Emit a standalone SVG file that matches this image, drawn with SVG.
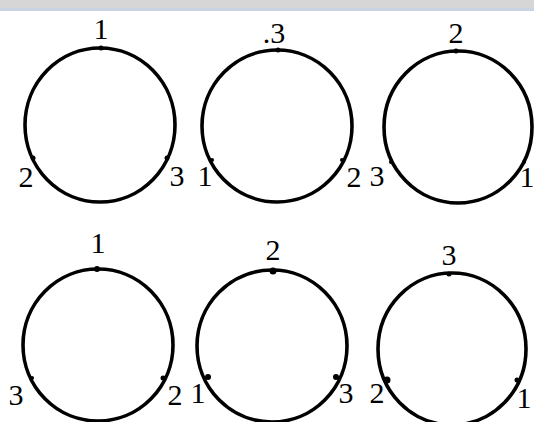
<svg xmlns="http://www.w3.org/2000/svg" width="534" height="422" viewBox="0 0 534 422">
<style>
.ring{fill:none;stroke:#000;stroke-width:3.6}
.dot{fill:#000}
.lbl{font-family:"Liberation Serif","Times New Roman",serif;font-size:30px;fill:#000;text-anchor:middle}
</style>
<rect x="0" y="0" width="534" height="422" fill="#fff"/>
<rect x="0" y="0" width="534" height="8" fill="#d6d6d6"/>
<rect x="0" y="8" width="534" height="3" fill="#c9d3e3"/>
<g id="c1">
<ellipse class="ring" cx="100" cy="125" rx="75" ry="77"/>
<circle class="dot" cx="101" cy="48" r="2.5"/>
<circle class="dot" cx="33" cy="158" r="2.5"/>
<circle class="dot" cx="167" cy="158" r="2.5"/>
<text class="lbl" x="101" y="39">1</text>
<text class="lbl" x="26" y="187">2</text>
<text class="lbl" x="177" y="186">3</text>
</g>
<g id="c2">
<ellipse class="ring" cx="277" cy="126" rx="75" ry="76"/>
<circle class="dot" cx="278" cy="50" r="2.5"/>
<circle class="dot" cx="212" cy="160" r="2"/>
<circle class="dot" cx="342" cy="160" r="2"/>
<text class="lbl" x="274" y="43">.3</text>
<text class="lbl" x="205" y="186">1</text>
<text class="lbl" x="354" y="187">2</text>
</g>
<g id="c3">
<ellipse class="ring" cx="458" cy="127" rx="74" ry="76"/>
<circle class="dot" cx="456" cy="51" r="2.5"/>
<circle class="dot" cx="391" cy="162" r="2"/>
<circle class="dot" cx="524" cy="162" r="2"/>
<text class="lbl" x="456" y="43">2</text>
<text class="lbl" x="377" y="186">3</text>
<text class="lbl" x="527" y="187">1</text>
</g>
<g id="c4">
<ellipse class="ring" cx="98" cy="345" rx="75" ry="76"/>
<circle class="dot" cx="97" cy="269" r="3"/>
<circle class="dot" cx="32" cy="378" r="2"/>
<circle class="dot" cx="163" cy="378" r="2.5"/>
<text class="lbl" x="98" y="253">1</text>
<text class="lbl" x="16" y="405">3</text>
<text class="lbl" x="175" y="405">2</text>
</g>
<g id="c5">
<ellipse class="ring" cx="272" cy="346" rx="75" ry="76"/>
<circle class="dot" cx="273" cy="271" r="3.5"/>
<circle class="dot" cx="208" cy="377" r="3"/>
<circle class="dot" cx="336" cy="377" r="3"/>
<text class="lbl" x="273" y="260">2</text>
<text class="lbl" x="198" y="403">1</text>
<text class="lbl" x="346" y="403">3</text>
</g>
<g id="c6">
<ellipse class="ring" cx="452" cy="349" rx="74" ry="76"/>
<circle class="dot" cx="449" cy="274" r="2.5"/>
<circle class="dot" cx="387" cy="380" r="3.5"/>
<circle class="dot" cx="517" cy="380" r="2.5"/>
<text class="lbl" x="449" y="265">3</text>
<text class="lbl" x="377" y="403">2</text>
<text class="lbl" x="524" y="408">1</text>
</g>
<g id="connectors"/>
</svg>
